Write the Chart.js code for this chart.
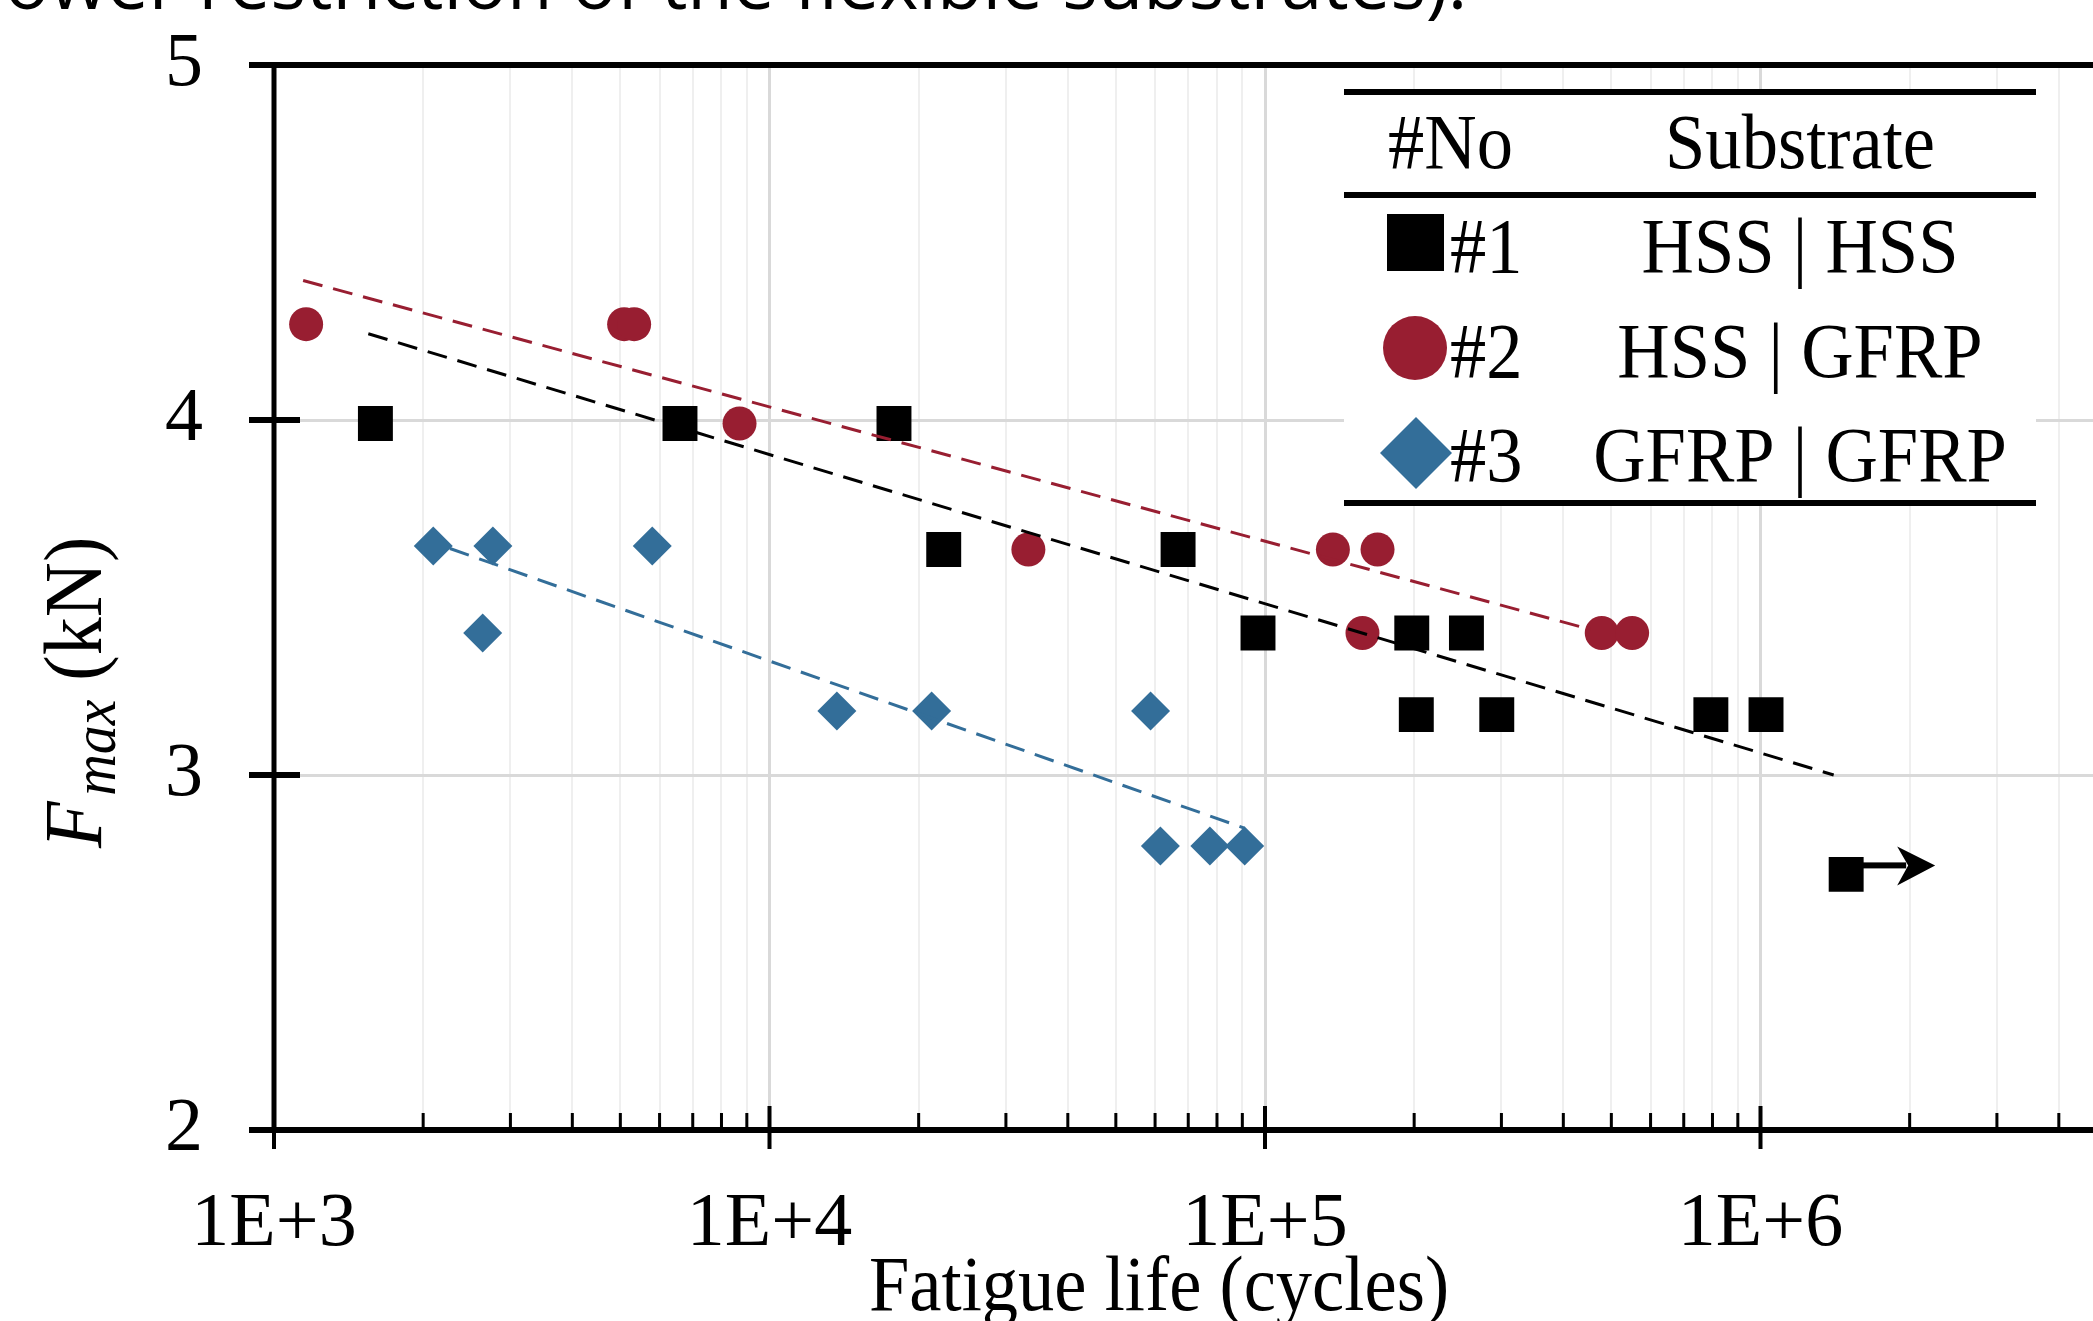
<!DOCTYPE html>
<html>
<head>
<meta charset="utf-8">
<script src="https://cdn.jsdelivr.net/npm/chart.js@4.4.1/dist/chart.umd.min.js"></script>
<style>
  html, body { margin: 0; padding: 0; background: #fff; overflow: hidden; }
  canvas { display: block; }
</style>
</head>
<body>
<canvas id="c" width="2400" height="1321"></canvas>
<script>
// ---------------- data ----------------
// Series #1 HSS | HSS (black squares)
const s1N = [1602, 6597, 17833, 22470, 66770, 96800, 197800, 255000, 202000, 293600, 794000, 1026000];
const s1F = [3.99, 3.99, 3.99, 3.635, 3.635, 3.40, 3.40, 3.40, 3.17, 3.17, 3.17, 3.17];
// run-out specimen of series #1 (arrow)
const runN = [1489000];
const runF = [2.72];
// Series #2 HSS | GFRP (red circles)
const s2N = [1161, 5089, 5331, 8700, 33300, 137100, 168700, 157300, 478200, 550700];
const s2F = [4.27, 4.27, 4.27, 3.99, 3.635, 3.635, 3.635, 3.40, 3.40, 3.40];
// Series #3 GFRP | GFRP (blue diamonds)
const s3N = [2096, 2765, 5799, 2637, 13675, 21240, 58750, 61500, 77400, 91000];
const s3F = [3.645, 3.645, 3.645, 3.40, 3.18, 3.18, 3.18, 2.80, 2.80, 2.80];
// Trend lines (end points)
const t1N = [1550, 1405000];   const t1F = [4.243, 3.00];
const t2N = [1145, 454000];    const t2F = [4.393, 3.41];
const t3N = [2265, 91000];     const t3F = [3.638, 2.85];
// Axis ticks
const xDecades = [1e3, 1e4, 1e5, 1e6, 1e7];
const xTickLabels = ['1E+3', '1E+4', '1E+5', '1E+6', '1E+7'];
const xMinorMultipliers = [2, 3, 4, 5, 6, 7, 8, 9];
const yTicks = [2, 3, 4, 5];
// Legend table
const legendHeader = ['#No', 'Substrate'];
const legendNo = ['#1', '#2', '#3'];
const legendSub = ['HSS | HSS', 'HSS | GFRP', 'GFRP | GFRP'];
const topText = 'lower restriction of the flexible substrates).';

const C_BLACK = '#000000', C_RED = '#981E31', C_BLUE = '#336E99';
const zip = (xs, ys) => xs.map((v, i) => ({ x: v, y: ys[i] }));

// ---------------- drawing helpers ----------------
function txt(ctx, s, x, y, font, align, sx) {
  ctx.save();
  ctx.font = font;
  ctx.textAlign = align || 'left';
  ctx.textBaseline = 'alphabetic';
  ctx.fillStyle = '#000';
  ctx.translate(x, y);
  ctx.scale(sx || 1, 1);
  ctx.fillText(s, 0, 0);
  ctx.restore();
}

const deco = {
  id: 'deco',
  afterDraw(chart) {
    const { ctx, chartArea: ca, scales: { x, y } } = chart;
    const W = chart.width;
    ctx.save();
    ctx.fillStyle = '#000';
    // axis lines
    ctx.fillRect(249, ca.top - 3, W, 6);            // top spine
    ctx.fillRect(250, ca.bottom - 3, W, 6);         // bottom axis
    ctx.fillRect(ca.left - 2.5, ca.top - 3, 5, ca.bottom - ca.top + 6); // left axis
    // y ticks (crossing)
    yTicks.forEach(v => {
      const py = y.getPixelForValue(v);
      ctx.fillRect(ca.left - 25, py - 3, 51, 6);
    });
    // x ticks
    x.ticks.forEach(t => {
      const px = x.getPixelForValue(t.value);
      if (px > W) return;
      if (t.major) ctx.fillRect(px - 2, ca.bottom - 24, 4, 43);
      else ctx.fillRect(px - 1.5, ca.bottom - 17, 3, 17);
    });
    // run-out arrow
    const ax = x.getPixelForValue(runN[0]);
    const ay = y.getPixelForValue(runF[0]) - 9;
    ctx.fillRect(ax, ay - 3, 60, 6);
    ctx.beginPath();
    ctx.moveTo(ax + 89, ay);
    ctx.lineTo(ax + 51, ay - 19);
    ctx.lineTo(ax + 62, ay);
    ctx.lineTo(ax + 51, ay + 20);
    ctx.closePath();
    ctx.fill();

    // legend table
    const L = 1344, R = 2036;
    ctx.fillStyle = '#fff';
    ctx.fillRect(L, 92, R - L, 411);
    ctx.fillStyle = '#000';
    ctx.fillRect(L, 89, R - L, 6);
    ctx.fillRect(L, 192, R - L, 6);
    ctx.fillRect(L, 500, R - L, 6);
    const LF = '78px "Liberation Serif"';
    const SX = 0.93;
    txt(ctx, legendHeader[0], 1388, 168, LF, 'left', SX);
    txt(ctx, legendHeader[1], 1800, 168, LF, 'center', SX);
    const rowBase = [272, 377, 481];
    legendNo.forEach((s, i) => {
      txt(ctx, s, 1450, rowBase[i], LF, 'left', SX);
      txt(ctx, legendSub[i], 1800, rowBase[i], LF, 'center', SX);
    });
    // legend markers
    ctx.fillStyle = C_BLACK;
    ctx.fillRect(1387, 214, 57, 57);
    ctx.fillStyle = C_RED;
    ctx.beginPath(); ctx.arc(1415, 348, 32, 0, Math.PI * 2); ctx.fill();
    ctx.fillStyle = C_BLUE;
    ctx.beginPath();
    ctx.moveTo(1416, 417); ctx.lineTo(1452, 453); ctx.lineTo(1416, 489); ctx.lineTo(1380, 453);
    ctx.closePath(); ctx.fill();

    // x axis title
    txt(ctx, 'Fatigue life (cycles)', 1159, 1310, '78px "Liberation Serif"', 'center', SX);

    // y axis title (rotated)
    ctx.save();
    ctx.translate(101, 848);
    ctx.rotate(-Math.PI / 2);
    ctx.scale(SX, 1);
    ctx.fillStyle = '#000';
    ctx.textBaseline = 'alphabetic';
    ctx.textAlign = 'left';
    let cx = 0;
    ctx.font = 'italic 82px "Liberation Serif"';
    ctx.fillText('F', cx, 0);
    cx += ctx.measureText('F').width + 6;
    ctx.font = 'italic 62px "Liberation Serif"';
    ctx.fillText('max', cx, 14);
    cx += ctx.measureText('max').width;
    ctx.font = '82px "Liberation Serif"';
    ctx.fillText(' (kN)', cx, 0);
    ctx.restore();

    // cut-off running text at the very top
    ctx.save();
    ctx.font = '60px "Open Sans"';
    const w = ctx.measureText(topText).width;
    const fs = 60 * 1482 / w;
    ctx.font = fs.toFixed(1) + 'px "Open Sans"';
    ctx.fillStyle = '#000';
    ctx.textBaseline = 'alphabetic';
    ctx.fillText(topText, -14, 9);
    ctx.restore();

    ctx.restore();
  }
};

const xTickObjs = [];
xDecades.forEach((d, i) => {
  xTickObjs.push({ value: d, major: true });
  if (i < xDecades.length - 1) xMinorMultipliers.forEach(m => xTickObjs.push({ value: d * m, major: false }));
});

const isDecade = v => xDecades.some(d => Math.abs(d - v) < 1e-6 * d);

new Chart(document.getElementById('c'), {
  type: 'scatter',
  data: {
    datasets: [
      { label: 'fit #1', type: 'line', data: zip(t1N, t1F), borderColor: C_BLACK, borderWidth: 3, borderDash: [20, 11], pointRadius: 0, fill: false, order: 0 },
      { label: 'fit #2', type: 'line', data: zip(t2N, t2F), borderColor: C_RED, borderWidth: 3, borderDash: [20, 11], pointRadius: 0, fill: false, order: 0 },
      { label: 'fit #3', type: 'line', data: zip(t3N, t3F), borderColor: C_BLUE, borderWidth: 3, borderDash: [20, 11], pointRadius: 0, fill: false, order: 0 },
      { label: '#1', data: zip(s1N, s1F), pointStyle: 'rect', pointRadius: 24.7, backgroundColor: C_BLACK, borderColor: C_BLACK, pointBorderWidth: 0, order: 1 },
      { label: '#1 run-out', data: zip(runN, runF), pointStyle: 'rect', pointRadius: 24.7, backgroundColor: C_BLACK, borderColor: C_BLACK, pointBorderWidth: 0, order: 1 },
      { label: '#2', data: zip(s2N, s2F), pointStyle: 'circle', pointRadius: 17, backgroundColor: C_RED, borderColor: C_RED, pointBorderWidth: 0, order: 1 },
      { label: '#3', data: zip(s3N, s3F), pointStyle: 'rectRot', pointRadius: 19.5, backgroundColor: C_BLUE, borderColor: C_BLUE, pointBorderWidth: 0, order: 1 }
    ]
  },
  options: {
    responsive: false,
    animation: false,
    events: [],
    layout: { padding: { left: 0, top: 65, right: 144, bottom: 0 } },
    plugins: { legend: { display: false }, tooltip: { enabled: false }, title: { display: false } },
    scales: {
      x: {
        type: 'logarithmic',
        min: 1000, max: 1e7,
        afterBuildTicks(scale) { scale.ticks = xTickObjs.map(t => ({ value: t.value, major: t.major })); },
        afterFit(scale) { scale.height = 191; scale.paddingLeft = 0; scale.paddingRight = 0; scale.paddingTop = 0; scale.paddingBottom = 0; },
        ticks: {
          autoSkip: false, maxRotation: 0, minRotation: 0,
          color: '#000', padding: 57,
          font: { family: 'Liberation Serif', size: 76, lineHeight: 1 },
          callback(value) {
            const i = xDecades.findIndex(d => Math.abs(d - value) < 1e-6 * d);
            return i >= 0 ? xTickLabels[i] : '';
          }
        },
        grid: {
          drawTicks: false,
          color: c => (c.tick && isDecade(c.tick.value)) ? '#d9d9d9' : '#efefef',
          lineWidth: c => (c.tick && isDecade(c.tick.value)) ? 3 : 2
        },
        border: { display: false }
      },
      y: {
        type: 'linear',
        min: 2, max: 5,
        afterFit(scale) { scale.width = 274; scale.paddingLeft = 0; scale.paddingRight = 0; scale.paddingTop = 0; scale.paddingBottom = 0; },
        ticks: {
          stepSize: 1, color: '#000', padding: 71,
          font: { family: 'Liberation Serif', size: 76, lineHeight: 1 }
        },
        grid: { drawTicks: false, color: '#d9d9d9', lineWidth: 3 },
        border: { display: false }
      }
    }
  },
  plugins: [deco]
});
</script>
</body>
</html>
